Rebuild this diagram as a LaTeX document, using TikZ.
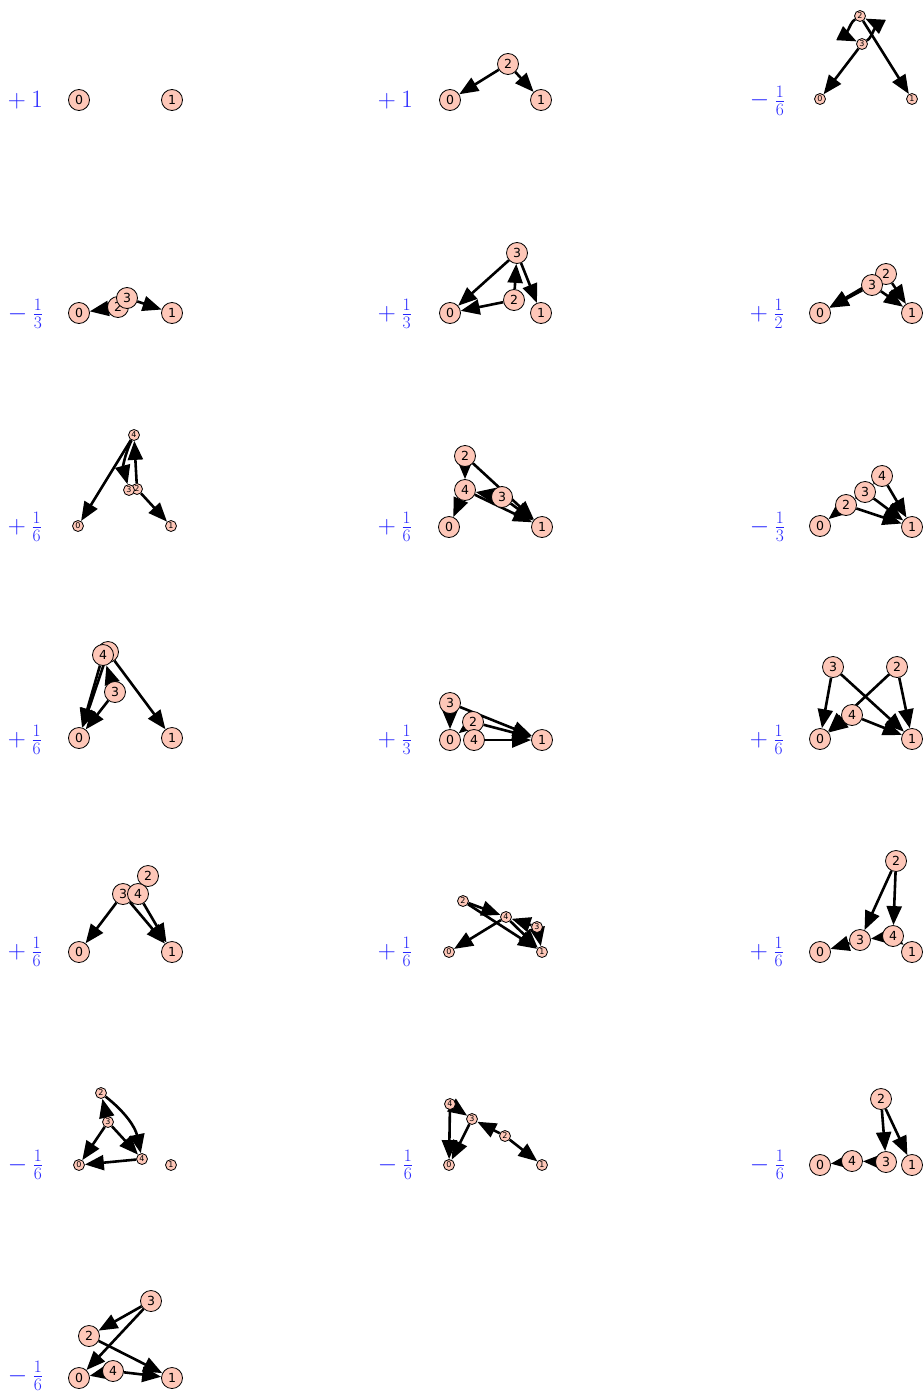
\documentclass[tikz,border=0pt]{standalone}
\usepackage{fix-cm}
\usepackage{fontspec}
\newfontfamily\dv{DejaVu Sans}
\usetikzlibrary{arrows.meta,backgrounds}
\definecolor{vc}{HTML}{FEC7B8}
\definecolor{cb}{rgb}{0.15,0.15,1}
\tikzset{
  v/.style={circle,draw=black,line width=0.8pt,fill=vc,minimum size=21pt,inner sep=0pt,font=\dv\fontsize{12.5}{12.5}\selectfont},
  sv/.style={v,minimum size=11pt,font=\dv\fontsize{8}{8}\selectfont},
  e/.style={-{Triangle[length=19pt,width=15pt]},line width=2.6pt},
  lab/.style={text=cb,font=\fontsize{25}{30}\selectfont,anchor=base west,inner sep=0pt}
}
\begin{document}
\begin{tikzpicture}[x=1pt,y=-1pt]
\useasboundingbox (0,0) rectangle (923,1394);
% ---------- labels
\node[lab] (tA) at (2,108) {${}+1$};
\node[lab] (tB) at (372,108) {${}+1$};
\node[lab] (tC) at (744,107) {${}-\frac{1}{6}$};
\node[lab] (tD) at (2,320) {${}-\frac{1}{3}$};
\node[lab] (tE) at (372,320) {${}+\frac{1}{3}$};
\node[lab] (tF) at (744,320) {${}+\frac{1}{2}$};
\node[lab] (tG) at (2,533) {${}+\frac{1}{6}$};
\node[lab] (tH) at (372,533) {${}+\frac{1}{6}$};
\node[lab] (tI) at (744,533) {${}-\frac{1}{3}$};
\node[lab] (tJ) at (2,746) {${}+\frac{1}{6}$};
\node[lab] (tK) at (372,746) {${}+\frac{1}{3}$};
\node[lab] (tL) at (744,746) {${}+\frac{1}{6}$};
\node[lab] (tM) at (2,958) {${}+\frac{1}{6}$};
\node[lab] (tN) at (372,958) {${}+\frac{1}{6}$};
\node[lab] (tO) at (744,958) {${}+\frac{1}{6}$};
\node[lab] (tP) at (2,1171) {${}-\frac{1}{6}$};
\node[lab] (tQ) at (372,1171) {${}-\frac{1}{6}$};
\node[lab] (tR) at (744,1171) {${}-\frac{1}{6}$};
\node[lab] (tS) at (2,1382) {${}-\frac{1}{6}$};
% ---------- A
\node[v] (A0) at (79,100) {0};
\node[v] (A1) at (172,100) {1};
% ---------- B
\node[v] (B0) at (450,100) {0};
\node[v] (B1) at (541,100) {1};
\node[v] (B2) at (508,64) {2};
% ---------- C
\node[sv] (C0) at (820,99) {0};
\node[sv] (C1) at (912,99) {1};
\node[sv] (C2) at (860,16) {2};
\node[sv] (C3) at (862,44) {3};
% ---------- D
\node[v] (D0) at (79,313) {0};
\node[v] (D1) at (172,313) {1};
\node[v] (D2) at (118,307) {2};
\node[v] (D3) at (127,298) {3};
% ---------- E
\node[v] (E0) at (450,313) {0};
\node[v] (E1) at (541,313) {1};
\node[v] (E2) at (514,300) {2};
\node[v] (E3) at (517,253) {3};
% ---------- F
\node[v] (F0) at (820,313) {0};
\node[v] (F1) at (912,313) {1};
\node[v] (F2) at (886,274) {2};
\node[v] (F3) at (872,285) {3};
% ---------- G
\node[sv] (G0) at (78,526) {0};
\node[sv] (G1) at (171,526) {1};
\node[sv] (G2) at (137,489) {2};
\node[sv] (G3) at (129,490) {3};
\node[sv] (G4) at (134,435) {4};
% ---------- H
\node[v] (H0) at (449,527) {0};
\node[v] (H1) at (542,527) {1};
\node[v] (H2) at (465,456) {2};
\node[v] (H3) at (502,497) {3};
\node[v] (H4) at (465,490) {4};
% ---------- I
\node[v] (I0) at (820,526) {0};
\node[v] (I1) at (912,527) {1};
\node[v] (I2) at (846,505) {2};
\node[v] (I3) at (865,492) {3};
\node[v] (I4) at (882,476) {4};
% ---------- J
\node[v] (J0) at (79,738) {0};
\node[v] (J1) at (172,738) {1};
\node[v] (J2) at (108,652) {2};
\node[v] (J3) at (115,692) {3};
\node[v] (J4) at (103,655) {4};
% ---------- K
\node[v] (K0) at (450,740) {0};
\node[v] (K1) at (542,740) {1};
\node[v] (K2) at (473,722) {2};
\node[v] (K3) at (450,703) {3};
\node[v] (K4) at (474,740) {4};
% ---------- L
\node[v] (L0) at (820,739) {0};
\node[v] (L1) at (912,739) {1};
\node[v] (L2) at (897,667) {2};
\node[v] (L3) at (833,667) {3};
\node[v] (L4) at (852,715) {4};
% ---------- M
\node[v] (M0) at (79,952) {0};
\node[v] (M1) at (172,952) {1};
\node[v] (M2) at (148,876) {2};
\node[v] (M3) at (123,894) {3};
\node[v] (M4) at (138,894) {4};
% ---------- N
\node[sv] (N0) at (449,952) {0};
\node[sv] (N1) at (542,952) {1};
\node[sv] (N2) at (463,901) {2};
\node[sv] (N3) at (537,927) {3};
\node[sv] (N4) at (506,917) {4};
% ---------- O
\node[v] (O0) at (820,952) {0};
\node[v] (O1) at (912,952) {1};
\node[v] (O2) at (896,861) {2};
\node[v] (O3) at (860,940) {3};
\node[v] (O4) at (893,936) {4};
% ---------- P
\node[sv] (P0) at (79,1165) {0};
\node[sv] (P1) at (171,1165) {1};
\node[sv] (P2) at (101,1093) {2};
\node[sv] (P3) at (108,1122) {3};
\node[sv] (P4) at (142,1159) {4};
% ---------- Q
\node[sv] (Q0) at (449,1165) {0};
\node[sv] (Q1) at (542,1165) {1};
\node[sv] (Q2) at (505,1136) {2};
\node[sv] (Q3) at (472,1119) {3};
\node[sv] (Q4) at (450,1104) {4};
% ---------- R
\node[v] (R0) at (820,1165) {0};
\node[v] (R1) at (912,1165) {1};
\node[v] (R2) at (881,1099) {2};
\node[v] (R3) at (886,1162) {3};
\node[v] (R4) at (852,1161) {4};
% ---------- S
\node[v] (S0) at (79,1378) {0};
\node[v] (S1) at (172,1378) {1};
\node[v] (S2) at (89,1336) {2};
\node[v] (S3) at (151,1301) {3};
\node[v] (S4) at (113,1371) {4};
% ---------- edges
\begin{pgfonlayer}{background}
\draw[e] (B2) -- (B0); \draw[e] (B2) -- (B1);
\draw[e] (C3) -- (C0); \draw[e] (C2) -- (C1);
\draw[e] (C2) to[bend right=60] (C3); \draw[e] (C3) to[bend right=60] (C2);
\draw[e] (D2) -- (D0); \draw[e] (D3) -- (D1);
\draw[e] (E3) -- (E0); \draw[e] (E3) -- (E1); \draw[e] (E2) -- (E3); \draw[e] (E2) -- (E0);
\draw[e] (F2) -- (F0); \draw[e] (F2) -- (F1); \draw[e] (F3) -- (F0); \draw[e] (F3) -- (F1);
\draw[e] (G4) -- (G0); \draw[e] (G4) to[bend right=20] (G3); \draw[e] (G2) -- (G4); \draw[e] (G2) -- (G1);
\draw[e] (H2) -- (H4); \draw[e] (H2) -- (H1); \draw[e] (H4) -- (H0); \draw[e] (H4) -- (H1); \draw[e] (H3) -- (H4); \draw[e] (H3) -- (H1);
\draw[e] (I2) -- (I0); \draw[e] (I2) -- (I1); \draw[e] (I3) -- (I1); \draw[e] (I3) -- (I2); \draw[e] (I4) -- (I1); \draw[e] (I4) -- (I3);
\draw[e] (J2) -- (J0); \draw[e] (J2) -- (J1); \draw[e] (J4) -- (J0); \draw[e] (J3) -- (J0); \draw[e] (J3) -- (J4);
\draw[e] (K3) -- (K0); \draw[e] (K3) -- (K1); \draw[e] (K2) -- (K0); \draw[e] (K2) -- (K1); \draw[e] (K4) -- (K1);
\draw[e] (L3) -- (L0); \draw[e] (L3) -- (L1); \draw[e] (L2) -- (L0); \draw[e] (L2) -- (L1); \draw[e] (L4) -- (L1); \draw[e] (L4) -- (L0);
\draw[e] (M2) -- (M4); \draw[e] (M3) -- (M0); \draw[e] (M3) -- (M1); \draw[e] (M4) -- (M1);
\draw[e] (N2) -- (N4); \draw[e] (N2) -- (N1); \draw[e] (N4) -- (N0); \draw[e] (N4) -- (N1); \draw[e] (N3) -- (N4); \draw[e] (N3) -- (N1);
\draw[e] (O2) -- (O3); \draw[e] (O2) -- (O4); \draw[e] (O3) -- (O0); \draw[e] (O4) -- (O3); \draw[e] (O4) -- (O1);
\draw[e] (P3) -- (P2); \draw[e] (P3) -- (P0); \draw[e] (P2) to[bend left=20] (P4); \draw[e] (P3) -- (P4); \draw[e] (P4) -- (P0);
\draw[e] (Q4) -- (Q0); \draw[e] (Q3) -- (Q0); \draw[e] (Q2) -- (Q3); \draw[e] (Q2) -- (Q1); \draw[e] (Q4) -- (Q3);
\draw[e] (R2) -- (R3); \draw[e] (R2) -- (R1); \draw[e] (R3) -- (R4); \draw[e] (R4) -- (R0);
\draw[e] (S3) -- (S2); \draw[e] (S3) -- (S0); \draw[e] (S2) -- (S1); \draw[e] (S4) -- (S0); \draw[e] (S4) -- (S1);
\end{pgfonlayer}
\end{tikzpicture}
\end{document}
